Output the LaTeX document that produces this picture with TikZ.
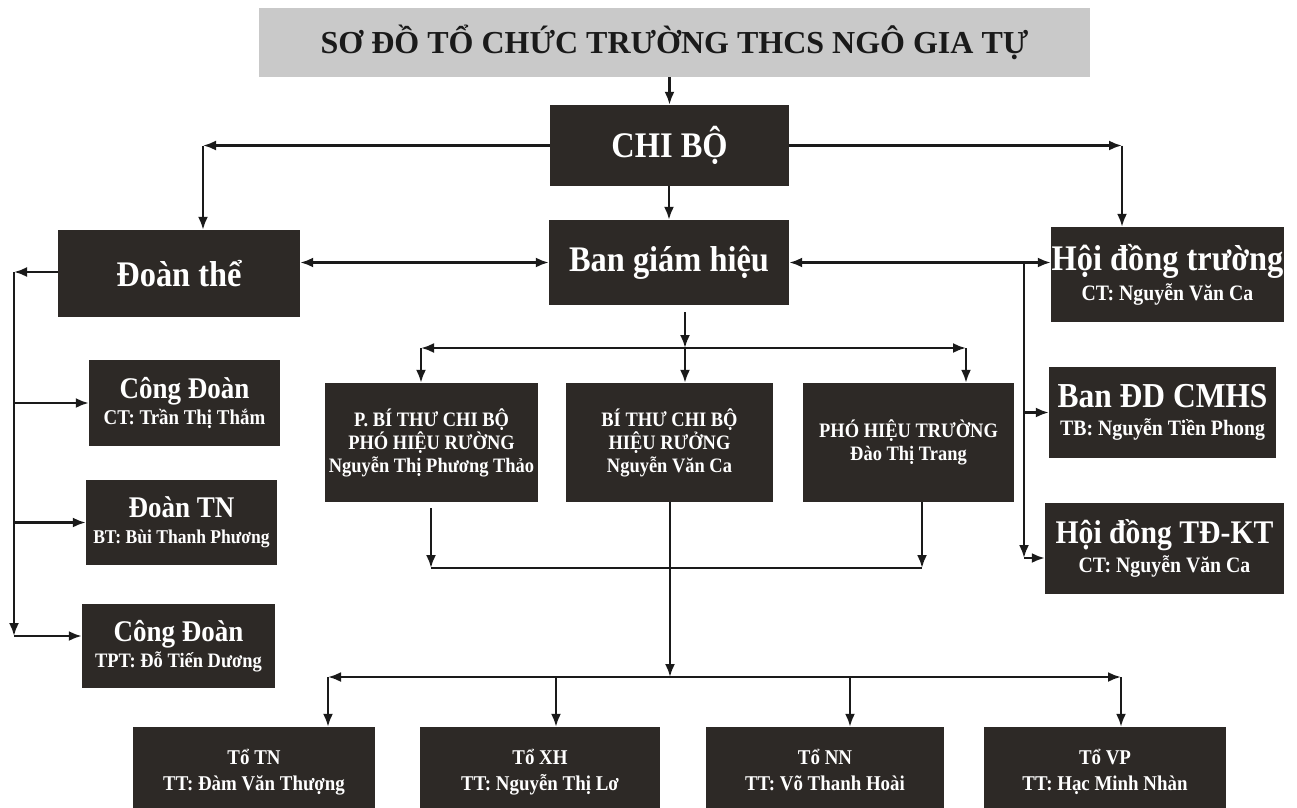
\documentclass[tikz,border=0pt]{standalone}
\usepackage{fontspec}
\setmainfont{Liberation Serif}[FakeStretch=0.9]
\newfontfamily\titlefont{Liberation Serif}
\usetikzlibrary{arrows.meta}
\definecolor{boxc}{HTML}{2D2926}
\definecolor{titlec}{HTML}{C9C9C9}
\definecolor{inkc}{HTML}{1A1A1A}
\tikzset{
  box/.style={fill=boxc, draw=none, text=white, font=\bfseries, align=center, inner sep=0pt},
  titlebox/.style={fill=titlec, draw=none, text=inkc, align=center, inner sep=0pt,
     font=\titlefont\bfseries\fontsize{32}{34}\selectfont},
  big/.style={font=\bfseries\fontsize{36}{40}\selectfont},
  tobox/.style={box, minimum height=90pt, font=\bfseries\fontsize{21}{26}\selectfont},
  arr/.style={draw=inkc, line width=2.4pt, -{Latex[length=13pt,width=10pt]}},
  darr/.style={draw=inkc, line width=2.4pt, {Latex[length=13pt,width=10pt]}-{Latex[length=13pt,width=10pt]}},
  ln/.style={draw=inkc, line width=2.4pt},
}
\begin{document}
\begin{tikzpicture}[x=1pt,y=-1pt]
\useasboundingbox (0,0) rectangle (1297,807);
\fill[white] (0,0) rectangle (1297,807);

% nodes
\node[titlebox, minimum width=831pt, minimum height=69pt] (title) at (674.5,42.5) {SƠ ĐỒ TỔ CHỨC TRƯỜNG THCS NGÔ GIA TỰ};
\node[box, big, minimum width=239pt, minimum height=81pt] (chibo) at (669.5,145.5) {CHI BỘ};
\node[box, big, minimum width=240pt, minimum height=85pt] (bgh) at (669,262.5) {Ban giám hiệu};
\node[box, big, minimum width=242pt, minimum height=87pt] (doanthe) at (179,273.5) {Đoàn thể};

\node[box, minimum width=233pt, minimum height=95pt, font=\bfseries\fontsize{22}{24}\selectfont] (hdt) at (1167.5,274.5)
  {{\fontsize{36}{38}\selectfont Hội đồng trường}\\[4pt]CT: Nguyễn Văn Ca};
\node[box, minimum width=227pt, minimum height=91pt, font=\bfseries\fontsize{22}{24}\selectfont] (bandd) at (1162.5,412.5)
  {{\fontsize{35}{36}\selectfont Ban ĐD CMHS}\\[4pt]TB: Nguyễn Tiền Phong};
\node[box, minimum width=239pt, minimum height=91pt, font=\bfseries\fontsize{22}{24}\selectfont] (tdkt) at (1164.5,548.5)
  {{\fontsize{33}{36}\selectfont Hội đồng TĐ-KT}\\[4pt]CT: Nguyễn Văn Ca};

\node[box, minimum width=191pt, minimum height=86pt, font=\bfseries\fontsize{21}{23}\selectfont] (congdoan) at (184.5,403)
  {{\fontsize{30}{32}\selectfont Công Đoàn}\\[3pt]CT: Trần Thị Thắm};
\node[box, minimum width=191pt, minimum height=85pt, font=\bfseries\fontsize{19.5}{23}\selectfont] (doantn) at (181.5,522.5)
  {{\fontsize{30}{32}\selectfont Đoàn TN}\\[3pt]BT: Bùi Thanh Phương};
\node[box, minimum width=193pt, minimum height=84pt, font=\bfseries\fontsize{20.5}{23}\selectfont] (congdoan2) at (178.5,646)
  {{\fontsize{30}{32}\selectfont Công Đoàn}\\[3pt]TPT: Đỗ Tiến Dương};

\node[box, minimum width=213pt, minimum height=119pt, font=\bfseries\fontsize{20.5}{23}\selectfont] (pbt) at (431.5,442.5)
  {P. BÍ THƯ CHI BỘ\\PHÓ HIỆU RƯỜNG\\Nguyễn Thị Phương Thảo};
\node[box, minimum width=207pt, minimum height=119pt, font=\bfseries\fontsize{20.5}{23}\selectfont] (bt) at (669.5,442.5)
  {BÍ THƯ CHI BỘ\\HIỆU RƯỞNG\\Nguyễn Văn Ca};
\node[box, minimum width=211pt, minimum height=119pt, font=\bfseries\fontsize{20.5}{23}\selectfont] (pht) at (908.5,442.5)
  {PHÓ HIỆU TRƯỜNG\\Đào Thị Trang};

\node[tobox, minimum width=242pt] (totn) at (254,772) {\strut Tổ TN\\\strut TT: Đàm Văn Thượng};
\node[tobox, minimum width=240pt] (toxh) at (540,772) {\strut Tổ XH\\\strut TT: Nguyễn Thị Lơ};
\node[tobox, minimum width=238pt] (tonn) at (825,772) {\strut Tổ NN\\\strut TT: Võ Thanh Hoài};
\node[tobox, minimum width=242pt] (tovp) at (1105,772) {\strut Tổ VP\\\strut TT: Hạc Minh Nhàn};

% coordinates
\coordinate (cL) at (203,145.5);
\coordinate (cR) at (1122,145.5);
\coordinate (rv) at (1024,262.5);
\coordinate (rb) at (1024,558);
\coordinate (lv) at (14,272);
\coordinate (lb) at (14,636);
\coordinate (m1) at (685,348);
\coordinate (ml) at (421,348);
\coordinate (mr) at (966,348);
\coordinate (ll) at (431,568);
\coordinate (lr) at (922,568);
\coordinate (bb) at (670,677);
\coordinate (b1) at (328,677);
\coordinate (b2) at (556,677);
\coordinate (b3) at (850,677);
\coordinate (b4) at (1121,677);

% connectors
\draw[arr] (chibo.north |- title.south) -- (chibo.north);
\draw[arr] (chibo.west) -- (cL);
\draw[arr] (cL) -- (cL |- doanthe.north);
\draw[arr] (chibo.east) -- (cR);
\draw[arr] (cR) -- (cR |- hdt.north);
\draw[arr] (bgh.north |- chibo.south) -- (bgh.north);
\draw[darr] (doanthe.east |- bgh.west) -- (bgh.west);
\draw[darr] (bgh.east) -- (bgh.east -| hdt.west);
% right branch
\draw[arr] (rv) -- (rb);
\draw[arr] (rv |- bandd.west) -- (bandd.west);
\draw[arr] (rb) -- (rb -| tdkt.west);
% left branch
\draw[arr] (doanthe.west |- lv) -- (lv);
\draw[arr] (lv) -- (lb);
\draw[arr] (lv |- congdoan.west) -- (congdoan.west);
\draw[arr] (lv |- doantn.west) -- (doantn.west);
\draw[arr] (lb) -- (lb -| congdoan2.west);
% middle
\draw[arr] ([yshift=-7pt]bgh.south -| m1) -- (m1);
\draw[darr] (ml) -- (mr);
\draw[arr] (ml) -- (ml |- pbt.north);
\draw[arr] (m1) -- (m1 |- bt.north);
\draw[arr] (mr) -- (mr |- pht.north);
\draw[arr] ([yshift=-6pt]pbt.south -| ll) -- (ll);
\draw[ln] (ll) -- (lr);
\draw[arr] (pht.south -| lr) -- (lr);
\draw[arr] (bt.south -| bb) -- (bb);
% bottom
\draw[darr] (b1) -- (b4);
\draw[arr] (b1) -- (b1 |- totn.north);
\draw[arr] (b2) -- (b2 |- toxh.north);
\draw[arr] (b3) -- (b3 |- tonn.north);
\draw[arr] (b4) -- (b4 |- tovp.north);
\end{tikzpicture}
\end{document}
